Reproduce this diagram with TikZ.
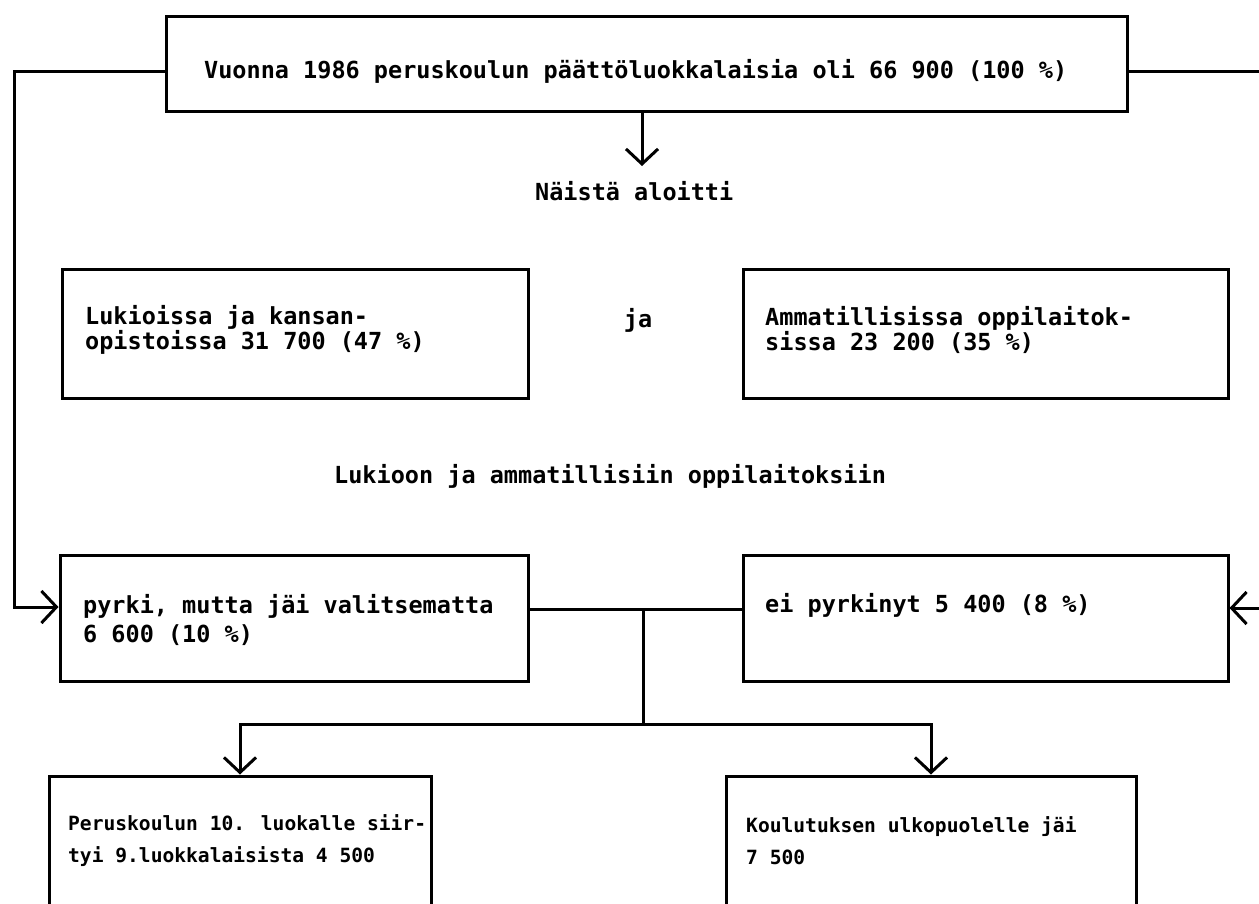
\documentclass[tikz,border=0pt]{standalone}
\usepackage{fontspec}
\newfontfamily\dotfont{DejaVu Sans Mono}
\usetikzlibrary{arrows.meta}
\tikzset{
  box/.style={draw, line width=3pt, rectangle, inner sep=0pt},
  lbl/.style={anchor=west, inner sep=0pt, align=left, font=\dotfont\bfseries\fontsize{23.5}{29}\selectfont},
  lbls/.style={anchor=west, inner sep=0pt, align=left, font=\dotfont\bfseries\fontsize{19.6}{32}\selectfont},
  conn/.style={line width=3pt},
  arr/.style={conn, -{Straight Barb[length=15pt,width=32pt]}}
}
\begin{document}
\begin{tikzpicture}[x=1pt,y=-1pt]
\useasboundingbox (0,0) rectangle (1259,903);
\clip (0,0) rectangle (1259,903);
% boxes
\node[box, minimum width=961pt, minimum height=95pt] (top) at (646.5,63.5) {};
\node[box, minimum width=466pt, minimum height=129pt] (luk) at (295,333.5) {};
\node[box, minimum width=485pt, minimum height=129pt] (amm) at (985.5,333.5) {};
\node[box, minimum width=468pt, minimum height=126pt] (pyr) at (294,618) {};
\node[box, minimum width=485pt, minimum height=126pt] (ei) at (985.5,618) {};
\node[box, minimum width=382pt, minimum height=150pt] (per) at (240,851) {};
\node[box, minimum width=410pt, minimum height=150pt] (kou) at (931,851) {};
% texts
\node[lbl] (t0) at (204,71) {Vuonna 1986 peruskoulun päättöluokkalaisia oli 66 900 (100 \%)};
\node[lbl] (t1) at (535,191) {Näistä aloitti};
\node[lbl, font=\dotfont\bfseries\fontsize{23.5}{23.5}\selectfont] (tl) at (85,330) {Lukioissa ja kansan-\\opistoissa 31 700 (47 \%)};
\node[lbl, anchor=center] (tja) at (638,320) {ja};
\node[lbl, font=\dotfont\bfseries\fontsize{23.5}{23.5}\selectfont] (ta) at (765,330) {Ammatillisissa oppilaitok-\\sissa 23 200 (35 \%)};
\node[lbl] (tm) at (334,476) {Lukioon ja ammatillisiin oppilaitoksiin};
\node[lbl] (tp) at (83,620) {pyrki, mutta jäi valitsematta\\6 600 (10 \%)};
\node[lbl] (te) at (765,605) {ei pyrkinyt 5 400 (8 \%)};
\node[lbls] (tr) at (68,841) {Peruskoulun 10. luokalle siir-\\tyi 9.luokkalaisista 4 500};
\node[lbls] (tk) at (746,841) {Koulutuksen ulkopuolelle jäi\\7 500};
% coordinates
\coordinate (lc) at (14,71);
\coordinate (lb) at (14,607);
\coordinate (rc) at (1259,71);
\coordinate (rb) at (1259,608);
\coordinate (na) at (642,166);
\coordinate (mid) at (643,609);
\coordinate (jd) at (643,724);
% connectors
\draw[arr] (top.west |- lc) -- (lc) -- (lb) -- (pyr.west |- lb);
\draw[conn] (top.east |- rc) -- (rc);
\draw[arr] (rb) -- (ei.east |- rb);
\draw[arr] (top.south -| na) -- (na);
\draw[conn] (pyr.east |- mid) -- (ei.west |- mid);
\draw[conn] (mid) -- (jd);
\draw[arr] (jd) -| (per.north);
\draw[arr] (jd) -| (kou.north);
\end{tikzpicture}
\end{document}
